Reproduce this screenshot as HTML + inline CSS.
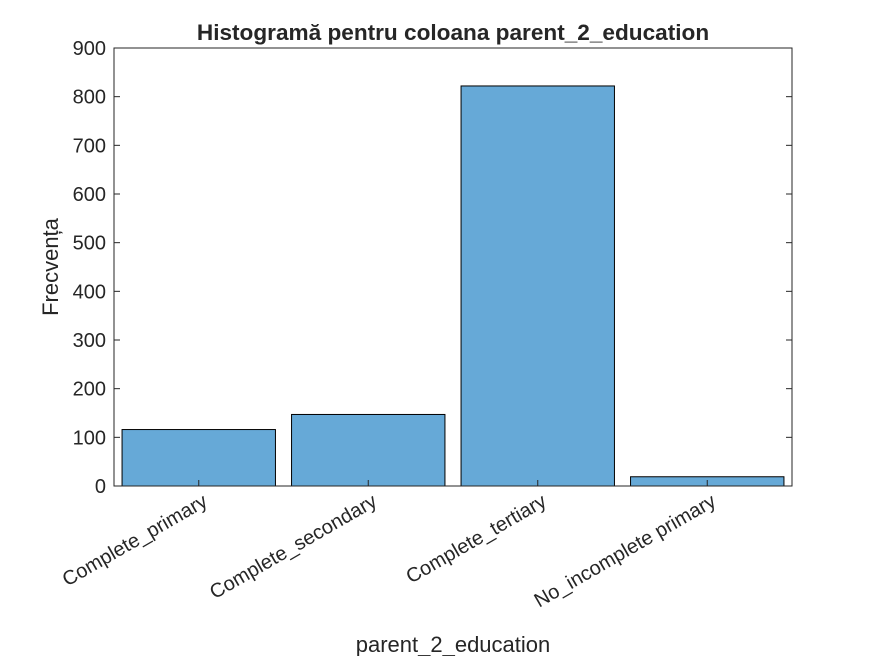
<!DOCTYPE html>
<html><head><meta charset="utf-8"><style>body{margin:0;background:#fff}svg{display:block}text{font-family:"Liberation Sans",sans-serif;fill:#262626}</style></head>
<body>
<svg id="c" width="875" height="656"></svg>
<script>
const categories=["Complete_primary","Complete_secondary","Complete_tertiary","No_incomplete primary"];
const counts=[116,147,822,19];
const yTicks=[0,100,200,300,400,500,600,700,800,900];
const L=114,R=792,T=48,B=486,yMax=900;
const ns="http://www.w3.org/2000/svg",svg=document.getElementById('c');
function y(v){return B-(v/yMax)*(B-T);}
const cw=(R-L)/categories.length;
function x(i){return L+cw*(i+0.5);}
function mk(t,a,p){const e=document.createElementNS(ns,t);for(const k in a)e.setAttribute(k,a[k]);(p||svg).appendChild(e);return e;}
const bg=mk('rect',{x:L,y:T,width:R-L,height:B-T,fill:'#fff'});


counts.forEach((v,i)=>{const bw=cw*0.905;const r=mk('rect',{x:x(i)-bw/2,y:y(v),width:bw,height:B-y(v),fill:'#66a9d7',stroke:'#000','stroke-width':1});

});
const box=mk('rect',{x:L,y:T,width:R-L,height:B-T,fill:'none',stroke:'#262626','stroke-width':1});


yTicks.forEach(v=>{mk('line',{x1:L,x2:L+6,y1:y(v),y2:y(v),stroke:'#262626'});mk('line',{x1:R,x2:R-6,y1:y(v),y2:y(v),stroke:'#262626'});
const t=mk('text',{x:L-8,y:y(v)+7,'text-anchor':'end','font-size':20});t.textContent=v;

});
categories.forEach((c,i)=>{mk('line',{x1:x(i),x2:x(i),y1:B,y2:B-6,stroke:'#262626'});
const ax=x(i)+10,ay=B+19;
const t=mk('text',{x:ax,y:ay,'text-anchor':'end','font-size':20,transform:`rotate(-30 ${ax} ${ay})`});t.textContent=c;

});
const ti=mk('text',{x:453,y:40,'text-anchor':'middle','font-size':22.6,'font-weight':'bold',fill:'#000'});ti.textContent="Histogramă pentru coloana parent_2_education";


const xt=mk('text',{x:453,y:652,'text-anchor':'middle','font-size':22});xt.textContent="parent_2_education";


const yt=mk('text',{x:58,y:267,'text-anchor':'middle','font-size':22,transform:'rotate(-90 58 267)'});yt.textContent="Frecvența";


</script>
</body></html>
